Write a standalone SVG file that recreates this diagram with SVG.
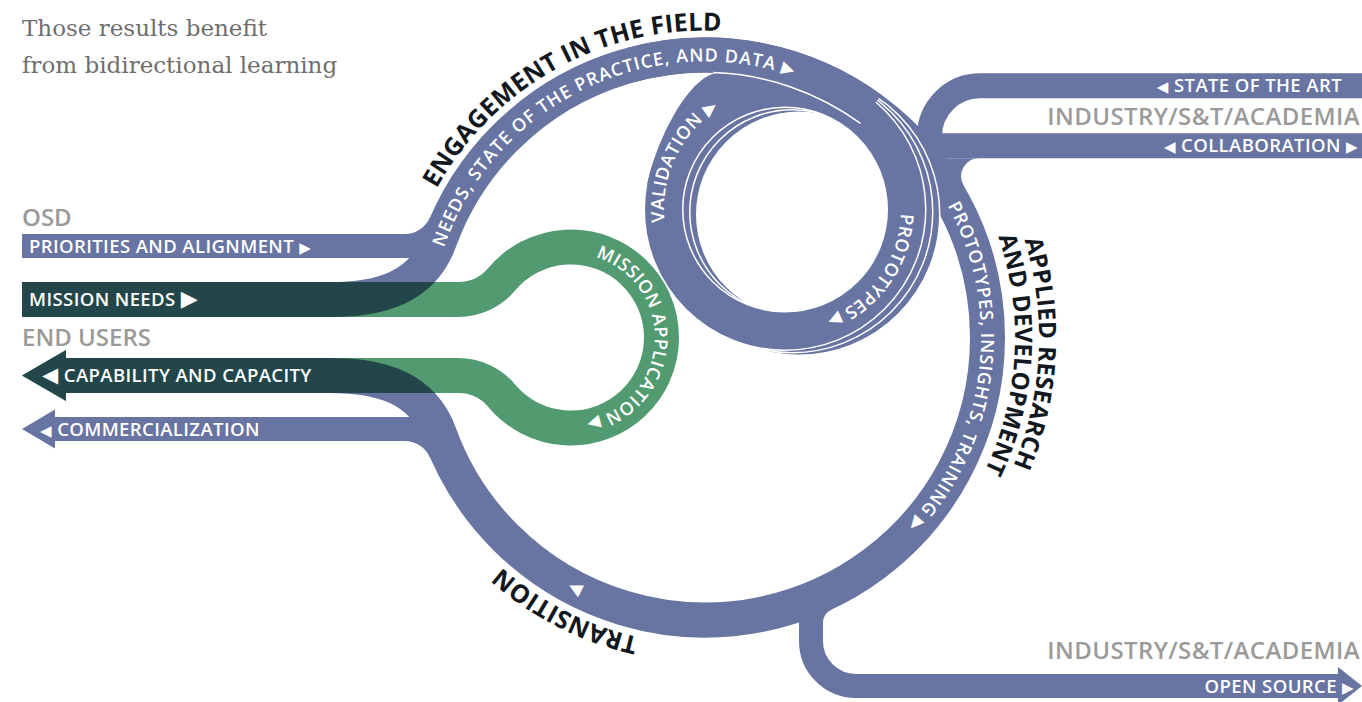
<svg xmlns="http://www.w3.org/2000/svg" width="1362" height="702" viewBox="0 0 1362 702">
<style>
.bs{fill:none;stroke:#6874a1}
.bf{fill:#6874a1}
.gs{fill:none;stroke:#529a70}
.gf{fill:#529a70}
.ds{fill:none;stroke:#22464a}
.df{fill:#22464a}
.wo{fill:none;stroke:#fff;stroke-width:40}
.wt{fill:#fff;font-family:"Open Sans","DejaVu Sans",sans-serif;font-weight:600;letter-spacing:0.4px}
.bk{fill:#121820;font-family:"Open Sans","DejaVu Sans",sans-serif;font-weight:700;letter-spacing:0.2px}
.gy{fill:#9a9a9a;font-family:"Open Sans","DejaVu Sans",sans-serif;font-weight:600}
.tri{font-family:"DejaVu Sans",sans-serif;font-weight:400}
.serif{fill:#6e6e6e;font-family:"DejaVu Serif","Liberation Serif",serif;font-size:23px}
</style>
<defs>
<path id="pGreen" d="M22,299.5 H458.4 A56.5,56.5 0 0 0 501.67,279.33 A90.5,90.5 0 1 1 501.67,395.67 A56.5,56.5 0 0 0 458.4,375.5 H66"/>
<path id="pMain" d="M22,299.5 H330 C380,299.5 422.44,287.86 439.54,240.88 A282.5,282.5 0 1 1 439.54,434.12 C422.44,387.14 380,375.5 330,375.5 H66"/>
<mask id="gMask" maskUnits="userSpaceOnUse" x="0" y="0" width="1362" height="702">
<use href="#pGreen" fill="none" stroke="#fff" stroke-width="35"/>
<polygon points="66,350 22,375.5 66,401" fill="#fff"/>
</mask>
<path id="pNeeds" d="M444.0,247.6 A276,276 0 0 1 808.4,81.6"/>
<path id="pEngage" d="M436.5,188.7 A307,307 0 0 1 758.3,35.2"/>
<path id="pPit" d="M947.5,205.5 A276,276 0 0 1 882.4,548.9"/>
<path id="pTrans" d="M638.5,637.1 A307,307 0 0 1 469.8,534.8"/>
<path id="pApp1" d="M1024.4,239.8 A334,334 0 0 1 978.6,529.1"/>
<path id="pApp2" d="M998.1,236.6 A310,310 0 0 1 958.9,515.3"/>
<path id="pTri" d="M583.1,587.4 A278,278 0 0 1 545.5,565.2"/>
<path id="pVal" d="M664.7,222.1 A121,121 0 0 1 743.6,95.8"/>
<path id="pProto" d="M900.9,213.6 A116,116 0 0 1 815.0,321.5"/>
<path id="pMA" d="M595.6,257.2 A84,84 0 0 1 573.9,421.4"/>
</defs>
<rect width="1362" height="702" fill="#fff"/>

<g id="intro-text">
<text class="serif" x="22" y="36">Those results benefit</text>
<text class="serif" x="22" y="73">from bidirectional learning</text>
</g>

<g id="connectors">
<use href="#pMain" class="bs" stroke-width="35"/>
<polygon class="bf" points="66,350 22,375.5 66,401"/>
<path class="bs" stroke-width="24" d="M22,246 H425"/>
<path class="bf" d="M404.5,234 A28,28 0 0 0 430.1,217.2 L440,240 L404.5,246 Z"/>
<path class="bs" stroke-width="24" d="M55,429 H425"/>
<polygon class="bf" points="55,409.5 22,429 55,448.5"/>
<path class="bf" d="M404.5,441 A28,28 0 0 1 430.1,457.8 L440,435 L404.5,429 Z"/>
<path class="bs" stroke-width="25" d="M1362,85.8 H980 A50.5,50.5 0 0 0 929.5,136.3 V172"/>
<path class="bs" stroke-width="25" d="M1362,145.8 H935"/>
<path class="bf" d="M979.1,158.3 A18,18 0 0 0 963.6,185.4 L930,180 L930,158.3 Z"/>
<path class="bs" stroke-width="24" d="M811,600 V641 A45,45 0 0 0 856,686 H1340"/>
<path class="bf" d="M823,623 A15,15 0 0 1 831.7,609.4 L815,600 L815,623 Z"/>
<polygon class="bf" points="1338,667 1362,686 1338,705"/>
<g id="coil">
<circle cx="799" cy="214.5" r="121.5" class="wo"/>
<circle cx="799" cy="214.5" r="121.5" class="bs" stroke-width="37"/>
<circle cx="792" cy="212" r="121.5" class="wo"/>
<circle cx="792" cy="212" r="121.5" class="bs" stroke-width="37"/>
<circle cx="785" cy="209.5" r="121.5" class="wo"/>
<circle cx="785" cy="209.5" r="121.5" class="bs" stroke-width="37"/>
<path class="bf" d="M647.1,185.2 C653.4,149.7 684,80 716,73 L760,74 L740,100 L670,170 Z"/>
<path class="bs" stroke-width="35" d="M632,64.6 A282.5,282.5 0 0 1 871.0,108.9"/>
<path fill="none" stroke="#fff" stroke-width="1.5" d="M713.3,72.6 A264.6,264.6 0 0 1 860.5,123.4"/>
</g>
<use href="#pGreen" class="gs" stroke-width="35"/>
<polygon class="gf" points="66,350 22,375.5 66,401"/>
<g mask="url(#gMask)">
<use href="#pMain" class="ds" stroke-width="35"/>
<polygon class="df" points="66,350 22,375.5 66,401"/>
</g>
</g>

<g id="osd">
<text class="gy" x="22" y="226" font-size="24">OSD</text>
<text class="wt" x="29" y="252.6" font-size="18.5">PRIORITIES AND ALIGNMENT <tspan class="tri" font-size="15">▶</tspan></text>
</g>
<g id="end-users">
<text class="wt" x="29" y="306" font-size="18.5">MISSION NEEDS <tspan class="tri" font-size="22">▶</tspan></text>
<text class="gy" x="22" y="346" font-size="24">END USERS</text>
<text class="wt" x="42" y="382" font-size="18.5"><tspan class="tri" font-size="21">◀</tspan> CAPABILITY AND CAPACITY</text>
<text class="wt" x="40" y="435.6" font-size="18.5"><tspan class="tri" font-size="15">◀</tspan> COMMERCIALIZATION</text>
</g>
<g id="industry-top">
<text class="wt" x="1342" y="92.4" font-size="18.5" text-anchor="end"><tspan class="tri" font-size="15">◀</tspan> STATE OF THE ART</text>
<text class="gy" x="1360" y="125" font-size="24" style="letter-spacing:0.4px" text-anchor="end">INDUSTRY/S&amp;T/ACADEMIA</text>
<text class="wt" x="1358" y="152.4" font-size="18.5" text-anchor="end"><tspan class="tri" font-size="15">◀</tspan> COLLABORATION <tspan class="tri" font-size="15">▶</tspan></text>
</g>
<g id="industry-bottom">
<text class="gy" x="1360" y="659" font-size="24" style="letter-spacing:0.4px" text-anchor="end">INDUSTRY/S&amp;T/ACADEMIA</text>
<text class="wt" x="1354" y="692.6" font-size="18.5" text-anchor="end">OPEN SOURCE <tspan class="tri" font-size="15">▶</tspan></text>
</g>
<g id="engagement">
<text class="bk" font-size="25"><textPath href="#pEngage">ENGAGEMENT IN THE FIELD</textPath></text>
<text class="wt" font-size="18" style="letter-spacing:1px"><textPath href="#pNeeds">NEEDS, STATE OF THE PRACTICE, AND DATA <tspan class="tri" font-size="17">▶</tspan></textPath></text>
</g>
<g id="applied-rd">
<text class="bk" font-size="24"><textPath href="#pApp1">APPLIED RESEARCH</textPath></text>
<text class="bk" font-size="24"><textPath href="#pApp2">AND DEVELOPMENT</textPath></text>
<text class="wt" font-size="18" style="letter-spacing:0.85px"><textPath href="#pPit">PROTOTYPES, INSIGHTS, TRAINING <tspan class="tri" font-size="17">▶</tspan></textPath></text>
</g>
<g id="transition">
<text class="bk" font-size="25"><textPath href="#pTrans">TRANSITION</textPath></text>
<text class="wt"><textPath href="#pTri"><tspan class="tri" font-size="17">▶</tspan></textPath></text>
</g>
<g id="validation-loop">
<text class="wt" font-size="18" style="letter-spacing:0.6px"><textPath href="#pVal">VALIDATION <tspan class="tri" font-size="17">▶</tspan></textPath></text>
<text class="wt" font-size="18"><textPath href="#pProto">PROTOTYPES <tspan class="tri" font-size="17">▶</tspan></textPath></text>
</g>
<g id="mission-loop">
<text class="wt" font-size="18"><textPath href="#pMA">MISSION APPLICATION <tspan class="tri" font-size="17">▶</tspan></textPath></text>
</g>
</svg>
